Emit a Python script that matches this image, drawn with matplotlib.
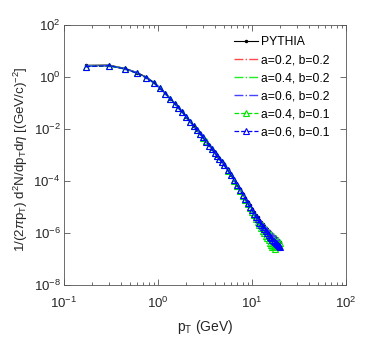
import numpy as np
import matplotlib
matplotlib.use("Agg")
import matplotlib.pyplot as plt
from matplotlib.ticker import LogLocator, NullFormatter, NullLocator

plt.rcParams['font.family'] = ['Liberation Sans', 'DejaVu Sans']
plt.rcParams['mathtext.fontset'] = 'custom'
plt.rcParams['mathtext.rm'] = 'Liberation Sans'
plt.rcParams['mathtext.it'] = 'Liberation Sans:italic'

# ---------------- data (log10 of the yield) ----------------
pt = [0.17, 0.3, 0.45, 0.6, 0.75, 0.9,
      1.05, 1.2, 1.35, 1.5, 1.65, 1.8,
      2.0, 2.2, 2.4, 2.6, 2.8,
      3.0, 3.25, 3.5, 3.75,
      4.0, 4.25, 4.5, 4.75,
      5.0, 5.5, 6.0, 6.5,
      7.0, 7.5, 8.0, 8.5,
      9.0, 9.5, 10.0,
      10.5, 11.0, 11.5, 12.0, 12.5, 13.0, 13.5, 14.0, 14.5, 15.0,
      15.5, 16.0, 16.5, 17.0, 17.5, 18.0, 18.5, 19.0, 19.5, 20.0]

pythia_log = [0.45, 0.46, 0.33, 0.17, 0.0, -0.2,
              -0.42, -0.62, -0.83, -1.0, -1.17, -1.32,
              -1.52, -1.70, -1.87, -2.03, -2.17,
              -2.30, -2.47, -2.62, -2.76,
              -2.90, -3.02, -3.13, -3.24,
              -3.35, -3.55, -3.75, -3.95,
              -4.14, -4.32, -4.49, -4.65,
              -4.80, -4.94, -5.07,
              -5.19, -5.30, -5.40, -5.50, -5.58, -5.66, -5.73, -5.79, -5.86, -5.92,
              -5.98, -6.03, -6.07, -6.11, -6.16, -6.20, -6.24, -6.27, -6.31, -6.35]

a02_b02_log = [0.41, 0.43, 0.31, 0.15, -0.02, -0.22,
               -0.43, -0.64, -0.84, -1.02, -1.18, -1.34,
               -1.53, -1.72, -1.88, -2.05, -2.19,
               -2.31, -2.49, -2.64, -2.77,
               -2.92, -3.04, -3.15, -3.27,
               -3.38, -3.57, -3.78, -3.98,
               -4.18, -4.35, -4.55, -4.70,
               -4.88, -5.01, -5.15,
               -5.28, -5.45, -5.52, -5.72, -5.70, -5.85, -5.80, -6.02, -5.95, -6.10,
               -6.05, -6.22, -6.12, -6.30, -6.20, -6.33, -6.28, -6.40, -6.36, -6.45]

a04_b02_log = [0.42, 0.44, 0.32, 0.15, -0.01, -0.21,
               -0.42, -0.63, -0.84, -1.01, -1.18, -1.33,
               -1.53, -1.71, -1.88, -2.04, -2.18,
               -2.31, -2.46, -2.63, -2.75,
               -2.88, -3.03, -3.12, -3.26,
               -3.34, -3.58, -3.74, -3.98,
               -4.12, -4.36, -4.47, -4.70,
               -4.78, -4.99, -5.05,
               -5.25, -5.27, -5.48, -5.45, -5.66, -5.60, -5.82, -5.72, -5.95, -5.82,
               -6.08, -5.95, -6.18, -6.02, -6.25, -6.10, -6.33, -6.18, -6.40, -6.25]

a06_b02_log = [0.42, 0.44, 0.31, 0.16, -0.01, -0.21,
               -0.43, -0.63, -0.83, -1.01, -1.17, -1.33,
               -1.52, -1.71, -1.87, -2.04, -2.17,
               -2.31, -2.47, -2.63, -2.76,
               -2.90, -3.01, -3.14, -3.23,
               -3.36, -3.54, -3.77, -3.93,
               -4.16, -4.30, -4.52, -4.62,
               -4.84, -4.90, -5.10,
               -5.15, -5.34, -5.36, -5.55, -5.52, -5.72, -5.66, -5.85, -5.78, -5.97,
               -5.90, -6.08, -6.00, -6.15, -6.10, -6.25, -6.18, -6.32, -6.26, -6.40]

a04_b01_log = [0.40, 0.42, 0.30, 0.14, -0.03, -0.23,
               -0.44, -0.65, -0.85, -1.03, -1.19, -1.35,
               -1.54, -1.73, -1.89, -2.05, -2.20,
               -2.33, -2.48, -2.65, -2.78,
               -2.92, -3.05, -3.16, -3.28,
               -3.38, -3.60, -3.78, -4.00,
               -4.20, -4.38, -4.56, -4.74,
               -4.90, -5.05, -5.20,
               -5.32, -5.46, -5.58, -5.70, -5.80, -5.92, -6.00, -6.10, -6.20, -6.28,
               -6.40, -6.45, -6.55, -6.50, -6.60, -6.48, -6.55, -6.42, -6.50, -6.38]

a06_b01_log = [0.40, 0.43, 0.31, 0.14, -0.03, -0.22,
               -0.44, -0.64, -0.85, -1.02, -1.19, -1.34,
               -1.54, -1.72, -1.89, -2.05, -2.19,
               -2.32, -2.49, -2.64, -2.78,
               -2.91, -3.04, -3.15, -3.27,
               -3.37, -3.58, -3.77, -3.97,
               -4.17, -4.36, -4.52, -4.70,
               -4.85, -5.00, -5.12,
               -5.25, -5.38, -5.48, -5.60, -5.68, -5.78, -5.84, -5.94, -6.00, -6.08,
               -6.14, -6.20, -6.26, -6.30, -6.36, -6.40, -6.44, -6.48, -6.50, -6.52]

series = [
    (pythia_log, 'PYTHIA', 'k', '-', '.'),
    (a02_b02_log, 'a=0.2, b=0.2', '#ff4a4a', '-.', None),
    (a04_b02_log, 'a=0.4, b=0.2', '#22ee22', '-.', None),
    (a06_b02_log, 'a=0.6, b=0.2', '#4444ff', '-.', None),
    (a04_b01_log, 'a=0.4, b=0.1', '#00e600', '--', '^'),
    (a06_b01_log, 'a=0.6, b=0.1', '#0000ff', '--', '^'),
]

# ---------------- plot ----------------
fig = plt.figure(figsize=(3.82, 3.42), dpi=100)
ax = fig.add_axes([64/382, 57/342, 282/382, 260/342])

for vals, name, col, ls, mk in series:
    y = np.power(10.0, vals)
    if mk == '.':
        ax.plot(pt, y, ls=ls, color=col, lw=0.8, marker='.', ms=3, label=name)
    elif mk == '^':
        ax.plot(pt, y, ls=ls, color=col, lw=0.9, marker='^', ms=3.8,
                mfc='none', mew=0.8, label=name)
    else:
        ax.plot(pt, y, ls=ls, color=col, lw=1.0, label=name)

ax.set_xscale('log')
ax.set_yscale('log')
ax.set_xlim(0.1, 100)
ax.set_ylim(1e-8, 1e2)

ax.set_yticks([1e-8, 1e-6, 1e-4, 1e-2, 1e0, 1e2])
ax.yaxis.set_minor_locator(NullLocator())
ax.xaxis.set_minor_locator(LogLocator(base=10, subs=np.arange(2, 10), numticks=20))
ax.xaxis.set_minor_formatter(NullFormatter())

axis_grey = '#262626'
for s in ax.spines.values():
    s.set_color('#555555')
    s.set_linewidth(0.6)
ax.tick_params(which='both', direction='in', top=True, right=True,
               colors='#555555', labelcolor=axis_grey, labelsize=9.5, width=0.6)
ax.tick_params(which='major', length=4)
ax.tick_params(which='minor', length=2)
ax.tick_params(axis='x', which='major', pad=7.5)
ax.tick_params(axis='y', which='major', pad=2.5)

ax.set_xlabel(r'p$_\mathrm{T}$ (GeV)', fontsize=10, color=axis_grey, labelpad=5)
ax.set_ylabel(r'1/(2$\pi$p$_\mathrm{T}$) d$^2$N/dp$_\mathrm{T}$d$\eta$ [(GeV/c)$^{-2}$]',
              fontsize=9.6, color=axis_grey)
ax.yaxis.set_label_coords(-0.12, 0.485)

ax.legend(loc='upper left', bbox_to_anchor=(0.585, 0.975), borderaxespad=0,
          frameon=False, fontsize=8.7, handlelength=2.0, handletextpad=0.25,
          labelspacing=0.5, borderpad=0.4)

fig.savefig('out.png', dpi=100, facecolor='white')
